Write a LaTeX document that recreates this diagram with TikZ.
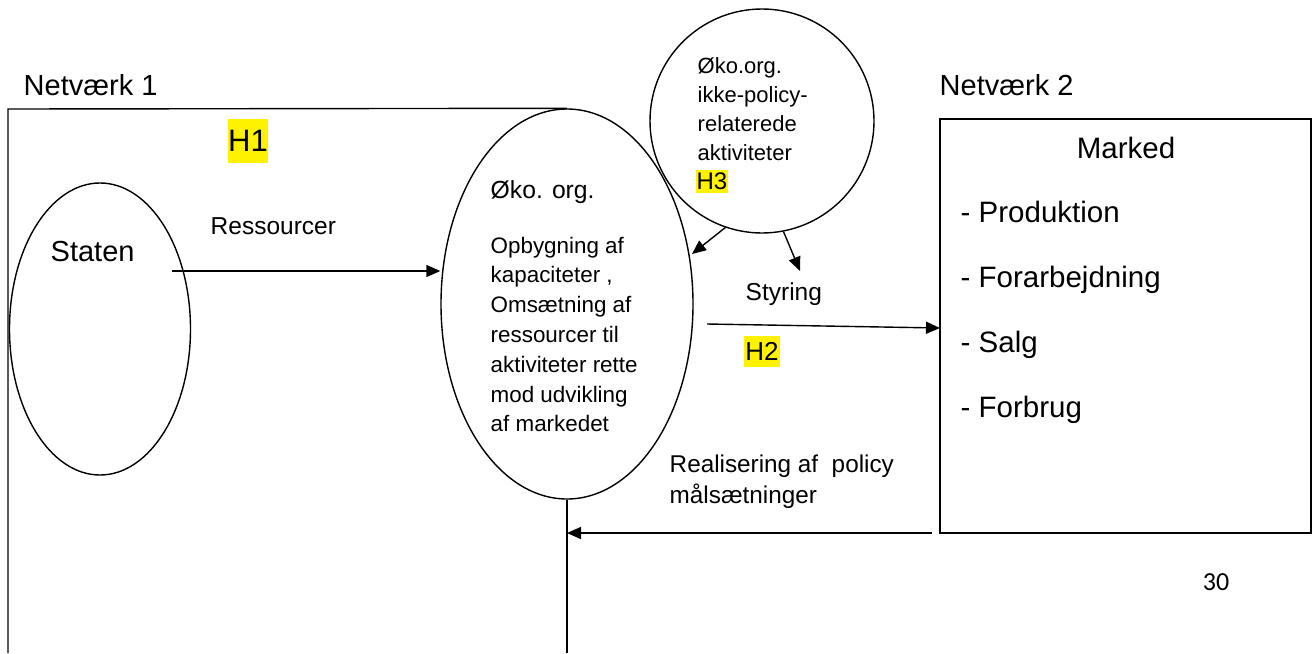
\documentclass[tikz,border=0pt]{standalone}
\usepackage{fontspec}
\setmainfont{Liberation Sans}
\newfontfamily\pagenumfont{Carlito}
\usetikzlibrary{shapes.geometric,arrows.meta}
\newcommand\myfs[1]{\fontsize{#1}{#1}\selectfont}
\begin{document}
\begin{tikzpicture}[x=1pt,y=-1pt,
  line width=1.4pt,
  shp/.style={draw, inner sep=0pt},
  txt/.style={inner sep=0pt, anchor=base west},
  arr/.style={-{Triangle[length=14pt,width=12pt]}, line width=1.4pt},
  hl/.style={fill=yellow, inner sep=0pt}]
\useasboundingbox (0,0) rectangle (1313,653);

% shapes
\node[shp, ellipse, minimum width=181pt, minimum height=292pt] (staten) at (100,329) {};
\node[shp, ellipse, minimum width=252pt, minimum height=390pt] (oko) at (567,304) {};
\node[shp, circle, minimum size=224pt] (h3c) at (762,121) {};
\node[shp, rectangle, minimum width=371pt, minimum height=414pt] (marked) at (1125.5,326) {};

% network 1 frame
\coordinate (frameTL) at (8,109);
\coordinate (frameBL) at (8,653);
\coordinate (frameBR) at (567,653);
\draw (oko.north) -- (frameTL) -- (frameBL);
\draw (oko.south) -- (frameBR);

% texts
\node[txt, font=\myfs{29}] (net1) at (23,95) {Netværk 1};
\node[txt, font=\myfs{29}] (net2) at (939,95) {Netværk 2};
\node[hl, minimum width=40pt, minimum height=44pt, font=\myfs{31}] (h1) at (248,141) {H1};
\node[txt, font=\myfs{29}] (statentxt) at (50,261) {Staten};
\node[txt, font=\myfs{24.5}] (ress) at (210,234) {Ressourcer};
\node[txt, font=\myfs{24.7}] (okotitle) at (490,198) {Øko. org.};
\foreach \t [count=\i] in {Opbygning af, {kapaciteter ,}, Omsætning af, ressourcer til, aktiviteter rette, mod udvikling, af markedet}
  \node[txt, font=\myfs{22.4}] (okod\i) at (490,{253+29.8*(\i-1)}) {\t};
\foreach \t [count=\i] in {Øko.org., ikke-policy-, relaterede, aktiviteter}
  \node[txt, font=\myfs{22}] (h3t\i) at (697,{73+29*(\i-1)}) {\t};
\node[hl, minimum width=32pt, minimum height=23pt, font=\myfs{24}] (h3) at (712,181.5) {H3};
\node[txt, font=\myfs{24.5}] (styr) at (745,300) {Styring};
\node[hl, minimum width=36pt, minimum height=31pt, font=\myfs{26}] (h2) at (762,351.5) {H2};
\node[txt, font=\myfs{24.3}] (real1) at (669,472) {Realisering af\ \ policy};
\node[txt, font=\myfs{24.3}] (real2) at (669,503) {målsætninger};
\node[inner sep=0pt, anchor=base, font=\myfs{29.5}] (markedtitle) at (1126,158) {Marked};
\foreach \t [count=\i] in {Produktion, Forarbejdning, Salg, Forbrug}
  \node[txt, font=\myfs{29.5}] (mk\i) at (960,{222+65*(\i-1)}) {- \t};
\node[inner sep=0pt, font=\pagenumfont\myfs{26}] (pnum) at (1216,582) {30};

% connectors
\coordinate (rstart) at (172,271);
\draw[arr] (rstart) -- (oko.west |- rstart);
\coordinate (h3tip) at (692,254);
\draw[arr] (h3c.251) -- (h3tip);
\coordinate (styrtip) at (800,271);
\draw[arr] (h3c.281) -- (styrtip);
\coordinate (sstart) at (707,324);
\coordinate (send) at (940,328);
\draw[arr] (sstart) -- (send);
\coordinate (rs) at (932,533);
\draw[arr] (rs) -- (oko.south |- rs);
\end{tikzpicture}
\end{document}
